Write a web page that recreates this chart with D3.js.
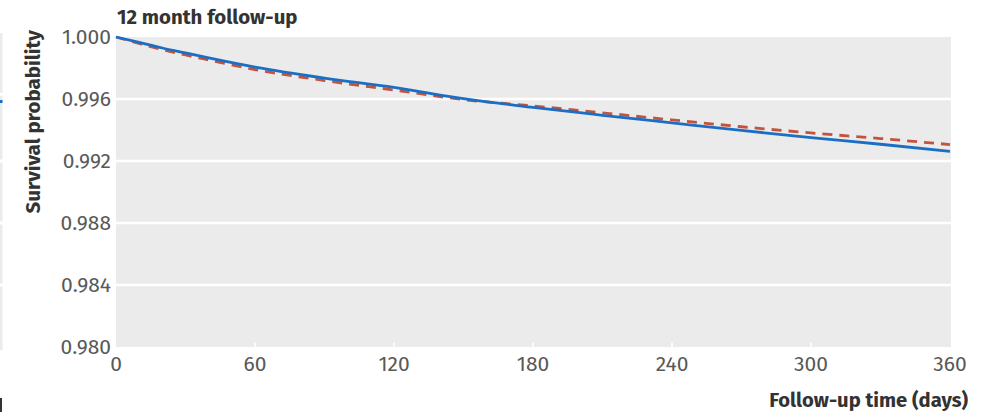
<!DOCTYPE html>
<html>
<head>
<meta charset="utf-8">
<script src="https://cdn.jsdelivr.net/npm/d3@7"></script>
<style>
  html, body { margin: 0; padding: 0; background: #fff; }
  svg { display: block; }
</style>
</head>
<body>
<svg id="chart" width="984" height="413"></svg>
<script>
const days = [0, 10, 20, 30, 40, 60, 90, 120, 150, 180, 210, 240, 270, 300, 330, 360];
const solidSeries = [1.00000, 0.99965, 0.99929, 0.99897, 0.99865, 0.99806, 0.99735, 0.99675, 0.99602, 0.99546, 0.99495, 0.99446, 0.99397, 0.99351, 0.99308, 0.99262];
const dashedSeries = [1.00000, 0.99958, 0.99919, 0.99884, 0.99852, 0.99790, 0.99719, 0.99658, 0.99596, 0.99555, 0.99511, 0.99465, 0.99421, 0.99381, 0.99345, 0.99306];
const xTicks = [0, 60, 120, 180, 240, 300, 360];
const yTicks = [0.980, 0.984, 0.988, 0.992, 0.996, 1.000];
const titleText = "12 month follow-up";
const xTitle = "Follow-up time (days)";
const yTitle = "Survival probability";

(function () {
const svg = d3.select("#chart");
const pL = 116, pR = 951, pT = 37, pB = 347;
const x = d3.scaleLinear().domain([0, 360]).range([pL, pR - 1]);
const y = d3.scaleLinear().domain([0.980, 1.000]).range([pB, pT]);
const font = "'Fira Sans','Open Sans','Noto Sans',sans-serif";

// decorative clipped neighbour panel at left edge
svg.append("rect").attr("x", 0).attr("y", 33).attr("width", 2.5).attr("height", 317).attr("fill", "#ebebeb");
[y(0.9963), y(0.992), y(0.988), y(0.984)].forEach(v => {
  svg.append("rect").attr("x", 0).attr("y", v - 1.5).attr("width", 3).attr("height", 3).attr("fill", "#fff");
});
svg.append("rect").attr("x", 0).attr("y", 100).attr("width", 2.5).attr("height", 3).attr("fill", "#1a6fc4");
svg.append("rect").attr("x", 0).attr("y", 398).attr("width", 2).attr("height", 14).attr("fill", "#333");

// panel
svg.append("rect").attr("x", pL).attr("y", pT).attr("width", pR - pL).attr("height", pB - pT).attr("fill", "#ebebeb");

// horizontal gridlines
svg.append("g").selectAll("line").data(yTicks.filter(t => t > 0.9805 && t < 0.9995)).join("line")
  .attr("x1", pL).attr("x2", pR)
  .attr("y1", d => y(d)).attr("y2", d => y(d))
  .attr("stroke", "#fff").attr("stroke-width", 2.6);

// small white ticks at panel bottom
svg.append("g").selectAll("line").data(xTicks.filter(t => t > 0 && t < 360)).join("line")
  .attr("x1", d => x(d)).attr("x2", d => x(d))
  .attr("y1", pB - 4.5).attr("y2", pB)
  .attr("stroke", "#fff").attr("stroke-width", 1.6);

// lines
const line = (vals) => d3.line().x((d, i) => x(days[i])).y(d => y(d)).curve(d3.curveMonotoneX)(vals);
svg.append("path").attr("d", line(dashedSeries)).attr("fill", "none")
  .attr("stroke", "#c4533d").attr("stroke-width", 2.8).attr("stroke-dasharray", "10,7");
svg.append("path").attr("d", line(solidSeries)).attr("fill", "none")
  .attr("stroke", "#1a6fc4").attr("stroke-width", 2.8);

// y tick labels
svg.append("g").selectAll("text").data(yTicks).join("text")
  .attr("x", pL - 5).attr("y", d => y(d)).attr("dy", "0.34em")
  .attr("text-anchor", "end").attr("fill", "#595959")
  .attr("font-family", font).attr("font-size", 21)
  .text(d => d3.format(".3f")(d));

// x tick labels
svg.append("g").selectAll("text").data(xTicks).join("text")
  .attr("x", d => x(d)).attr("y", 371)
  .attr("text-anchor", "middle").attr("fill", "#595959")
  .attr("font-family", font).attr("font-size", 21)
  .text(d => d);

// title
svg.append("text").attr("x", pL + 1).attr("y", 24)
  .attr("fill", "#333").attr("font-family", font).attr("font-weight", "bold").attr("font-size", 20.4)
  .text(titleText);

// axis titles
svg.append("text").attr("x", 968).attr("y", 407).attr("text-anchor", "end")
  .attr("fill", "#333").attr("font-family", font).attr("font-weight", "bold").attr("font-size", 20.2)
  .text(xTitle);
svg.append("text").attr("transform", "translate(40,30) rotate(-90)").attr("text-anchor", "end")
  .attr("fill", "#333").attr("font-family", font).attr("font-weight", "bold").attr("font-size", 20.5)
  .text(yTitle);
})();
</script>
</body>
</html>
